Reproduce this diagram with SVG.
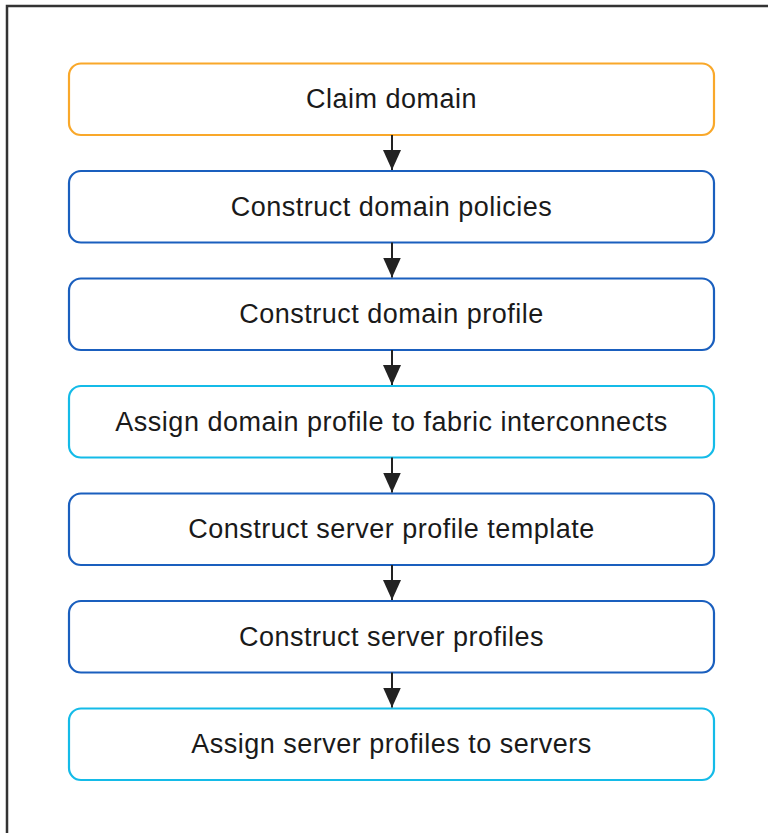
<svg xmlns="http://www.w3.org/2000/svg" width="768" height="833" viewBox="0 0 768 833">
<defs>
<style>
.box{fill:#fff;stroke-width:2.2}
.orange{stroke:#F9A82A}
.blue{stroke:#1A5FBE}
.cyan{stroke:#14BBE8}
.lbl{font-family:"Liberation Sans",Arial,sans-serif;font-size:27px;letter-spacing:0.5px;fill:#1a1a1a;text-anchor:middle}
.conn{stroke:#222;stroke-width:2;fill:none}
</style>
<marker id="ah" viewBox="0 0 20 18" refX="20" refY="9" markerWidth="20" markerHeight="18" markerUnits="userSpaceOnUse" orient="auto">
<path d="M0,0 L20,9 L0,18 Z" fill="#222"/>
</marker>
</defs>
<rect x="0" y="0" width="768" height="833" fill="#fff"/>
<rect x="7" y="6" width="800" height="850" fill="none" stroke="#333" stroke-width="2.5"/>
<g id="n1"><rect class="box orange" x="69" y="63.5" width="645" height="71.5" rx="12"/><text class="lbl" x="391.5" y="108">Claim domain</text></g>
<g id="n2"><rect class="box blue" x="69" y="171" width="645" height="71.5" rx="12"/><text class="lbl" x="391.5" y="216">Construct domain policies</text></g>
<g id="n3"><rect class="box blue" x="69" y="278.5" width="645" height="71.5" rx="12"/><text class="lbl" x="391.5" y="323">Construct domain profile</text></g>
<g id="n4"><rect class="box cyan" x="69" y="386" width="645" height="71.5" rx="12"/><text class="lbl" x="391.5" y="430.5">Assign domain profile to fabric interconnects</text></g>
<g id="n5"><rect class="box blue" x="69" y="493.5" width="645" height="71.5" rx="12"/><text class="lbl" x="391.5" y="538">Construct server profile template</text></g>
<g id="n6"><rect class="box blue" x="69" y="601" width="645" height="71.5" rx="12"/><text class="lbl" x="391.5" y="645.5">Construct server profiles</text></g>
<g id="n7"><rect class="box cyan" x="69" y="708.5" width="645" height="71.5" rx="12"/><text class="lbl" x="391.5" y="753">Assign server profiles to servers</text></g>
<g id="connectors">
<line class="conn" x1="392" y1="135" x2="392" y2="170" marker-end="url(#ah)"/>
<line class="conn" x1="392" y1="242.5" x2="392" y2="277.5" marker-end="url(#ah)"/>
<line class="conn" x1="392" y1="350" x2="392" y2="385" marker-end="url(#ah)"/>
<line class="conn" x1="392" y1="457.5" x2="392" y2="492.5" marker-end="url(#ah)"/>
<line class="conn" x1="392" y1="565" x2="392" y2="600" marker-end="url(#ah)"/>
<line class="conn" x1="392" y1="672.5" x2="392" y2="707.5" marker-end="url(#ah)"/>
</g>
</svg>
